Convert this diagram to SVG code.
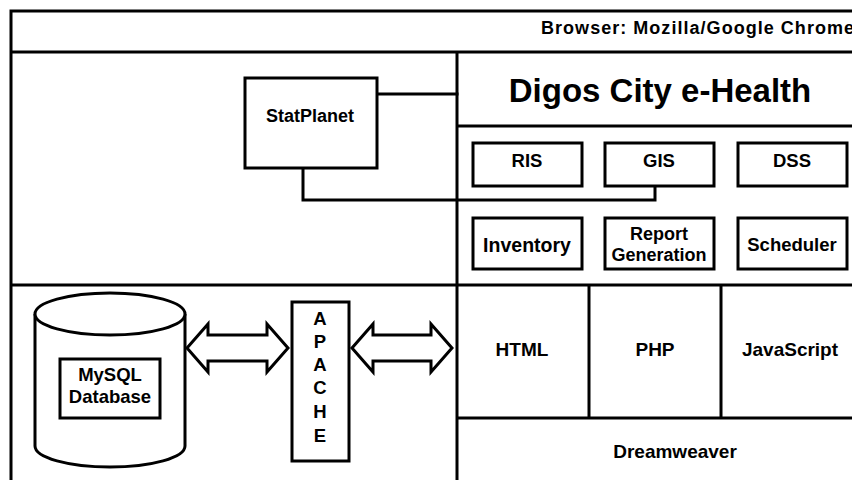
<svg xmlns="http://www.w3.org/2000/svg" width="852" height="480" viewBox="0 0 852 480">
<style>
.ln{stroke:#000;stroke-width:3;fill:none;stroke-linecap:square}
.bx{stroke:#000;stroke-width:3;fill:#fff}
.t{font-family:"Liberation Sans",Arial,sans-serif;font-weight:bold;fill:#000;text-anchor:middle}
.s{font-size:18.5px}
.m{font-size:19px}
</style>
<rect x="0" y="0" width="852" height="480" fill="#fff"/>
<g id="frame">
<path class="ln" d="M11,11 H852 M11,11 V480 M11,52 H852 M457,52 V480 M457,126 H852 M11,285 H852 M589,285 V418 M721,285 V418 M457,418 H852"/>
</g>
<g id="browser"><text class="t" x="541" y="34" style="font-size:18px;text-anchor:start" textLength="313" lengthAdjust="spacing">Browser: Mozilla/Google  Chrome</text></g>
<g id="title"><text class="t" x="660" y="102" style="font-size:33px">Digos City e-Health</text></g>
<g id="connectors">
<path class="ln" d="M378,94 H457 M303,168 V200 H655 V186"/>
<polygon class="bx" points="187,348 208,324 208,335 267,335 267,324 288,348 267,372 267,361 208,361 208,372"/>
<polygon class="bx" points="352,348 373,324 373,335 431,335 431,324 452,348 431,372 431,361 373,361 373,372"/>
</g>
<g id="statplanet"><rect class="bx" x="245" y="78" width="132" height="90"/><text class="t" x="310" y="122" style="font-size:18px">StatPlanet</text></g>
<g id="ris"><rect class="bx" x="473" y="143" width="109" height="43"/><text class="t s" x="527" y="167">RIS</text></g>
<g id="gis"><rect class="bx" x="605" y="143" width="109" height="43"/><text class="t s" x="659" y="167">GIS</text></g>
<g id="dss"><rect class="bx" x="738" y="143" width="109" height="43"/><text class="t s" x="792" y="167">DSS</text></g>
<g id="inventory"><rect class="bx" x="473" y="218" width="109" height="51"/><text class="t" x="527" y="252" style="font-size:19.5px">Inventory</text></g>
<g id="report"><rect class="bx" x="605" y="218" width="109" height="51"/><text class="t" x="659" y="240" style="font-size:18px">Report</text><text class="t" x="659" y="261" style="font-size:18px">Generation</text></g>
<g id="scheduler"><rect class="bx" x="738" y="218" width="109" height="51"/><text class="t s" x="792" y="251">Scheduler</text></g>
<g id="html"><text class="t m" x="522" y="356">HTML</text></g>
<g id="php"><text class="t m" x="655" y="356">PHP</text></g>
<g id="javascript"><text class="t m" x="790" y="356">JavaScript</text></g>
<g id="dreamweaver"><text class="t m" x="675" y="458">Dreamweaver</text></g>
<g id="mysql">
<path class="bx" d="M35,314 V446 A75,21 0 0 0 185,446 V314"/>
<ellipse class="bx" cx="110" cy="314" rx="75" ry="21"/>
<rect class="bx" x="60" y="359" width="100" height="59"/>
<text class="t" x="110" y="381" style="font-size:18.5px">MySQL</text>
<text class="t" x="110" y="403" style="font-size:18.5px">Database</text>
</g>
<g id="apache">
<rect class="bx" x="292" y="302" width="57" height="159"/>
<text class="t s" x="320" y="325">A</text>
<text class="t s" x="320" y="348">P</text>
<text class="t s" x="320" y="371">A</text>
<text class="t s" x="320" y="394">C</text>
<text class="t s" x="320" y="418">H</text>
<text class="t s" x="320" y="442">E</text>
</g>
</svg>
